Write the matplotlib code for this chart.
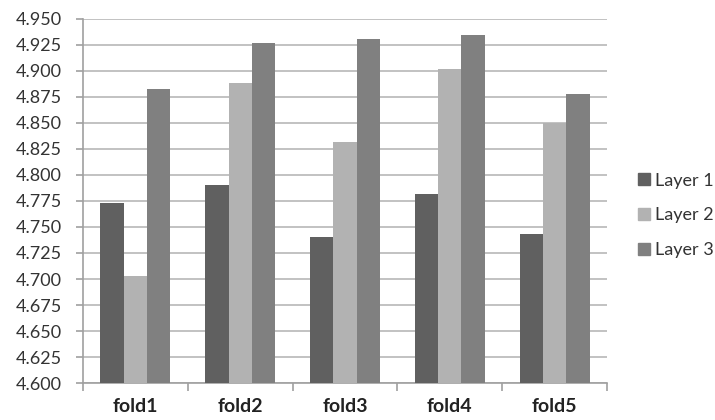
import numpy as np
import matplotlib.pyplot as plt
from matplotlib.patches import Patch

folds = ['fold1', 'fold2', 'fold3', 'fold4', 'fold5']
layer1 = [4.773, 4.790, 4.740, 4.782, 4.743]
layer2 = [4.703, 4.888, 4.832, 4.902, 4.850]
layer3 = [4.883, 4.927, 4.931, 4.935, 4.878]
series = ['Layer 1', 'Layer 2', 'Layer 3']
colors = ['#606060', '#b2b2b2', '#808080']

plt.rcParams['font.family'] = ['Lato', 'DejaVu Sans']

fig = plt.figure(figsize=(7.15, 4.2), dpi=100)
ax = fig.add_axes([0.116, 0.088, 0.733, 0.867])

x = np.arange(len(folds))
w = 0.222
base = 4.6
for i, vals in enumerate([layer1, layer2, layer3]):
    ax.bar(x + (i - 1) * w, np.array(vals) - base, w, bottom=base,
           color=colors[i], label=series[i], zorder=3)

ax.set_xlim(-0.5, len(folds) - 0.5)
ax.set_ylim(4.6, 4.95)
ax.set_yticks(np.arange(4.600, 4.9501, 0.025))
ax.set_yticklabels(['%.3f' % v for v in np.arange(4.600, 4.9501, 0.025)])
ax.yaxis.grid(True, color='#b8b8b8', linewidth=1.2, zorder=0)

# labels at category centres, tick marks between categories
ax.set_xticks(x)
ax.set_xticklabels(folds, fontsize=14, fontweight='bold', color='#222222')
ax.set_xticks(np.arange(-0.5, len(folds)), minor=True)
ax.tick_params(axis='x', which='major', length=0, pad=11)
ax.tick_params(axis='x', which='minor', length=6, color='#a0a0a0', width=1.2, direction='out')
ax.tick_params(axis='y', length=5, color='#a0a0a0', width=1.2, pad=10,
               labelsize=13, labelcolor='#333333')

for s in ['top', 'right']:
    ax.spines[s].set_visible(False)
for s in ['left', 'bottom']:
    ax.spines[s].set_color('#a0a0a0')
    ax.spines[s].set_linewidth(1.2)

handles = [Patch(color=c) for c in colors]
fig.legend(handles, series, loc='center left', bbox_to_anchor=(0.893, 0.487),
           frameon=False, fontsize=13, handlelength=0.66, handleheight=0.66,
           handletextpad=0.25, labelspacing=1.05, borderpad=0, borderaxespad=0,
           labelcolor='#333333')

fig.savefig('out.png', dpi=100)
